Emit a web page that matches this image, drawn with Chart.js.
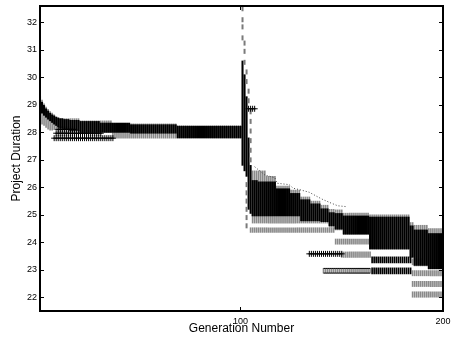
<!DOCTYPE html>
<html>
<head>
<meta charset="utf-8">
<style>
  html, body { margin: 0; padding: 0; background: #fff; }
  #wrap { width: 451px; height: 337px; }
</style>
<script src="https://cdn.jsdelivr.net/npm/chart.js@4/dist/chart.umd.min.js"></script>
</head>
<body>
<div id="wrap"><canvas id="c" width="451" height="337"></canvas></div>
<script>
// Generation range and tick labels
const genMin = 1, genMax = 200;
const xTicks = [100, 200];
const yTicks = [22, 23, 24, 25, 26, 27, 28, 29, 30, 31, 32];
const yMin = 21.5, yMax = 32.6;

// Dense population band per generation run: [fromGen, toGen, low, high]
const blackBand = [
  [1,1,28.75,29.30],[2,2,28.70,29.10],[3,3,28.62,28.98],[4,4,28.55,28.86],[5,5,28.48,28.78],
  [6,6,28.42,28.70],[7,7,28.36,28.64],[8,8,28.30,28.60],[9,9,28.25,28.56],[10,10,28.20,28.53],
  [11,12,28.15,28.50],[13,15,28.10,28.47],[16,20,28.05,28.44],[21,30,28.00,28.40],[31,45,28.00,28.34],
  [46,68,27.97,28.28],[69,100,27.80,28.22],
  [101,101,26.80,30.60],[102,102,26.60,30.10],[103,103,26.40,29.30],[104,104,25.20,27.80],[105,105,25.05,26.80],
  [106,108,24.96,26.25],[109,117,24.96,26.20],[118,124,24.96,25.95],[125,129,24.96,25.78],
  [130,134,24.78,25.55],[135,139,24.78,25.40],[140,143,24.75,25.22],[144,146,24.60,25.08],
  [147,150,24.48,25.05],[151,163,24.30,24.96],[164,183,23.76,24.92],[184,185,23.46,24.60],
  [186,192,23.16,24.45],[193,200,23.04,24.32]
];

// Second population (grey), drawn behind the dense band
const greyBand = [
  [1,1,28.35,29.38],[2,2,28.30,29.18],[3,3,28.25,29.04],[4,4,28.18,28.92],[5,5,28.12,28.84],
  [6,6,28.08,28.76],[7,7,28.08,28.70],[8,8,28.10,28.64],[9,20,28.10,28.50],[21,36,28.00,28.42],
  [37,68,27.79,28.31],[69,100,27.79,28.25],
  [106,112,24.70,26.60],[113,117,24.70,26.40],[118,124,24.70,26.05],[125,129,24.70,25.90],
  [130,134,24.70,25.65],[135,139,24.70,25.50],[140,143,24.70,25.35],[144,146,24.55,25.20],
  [147,150,24.45,25.18],[151,163,24.28,25.06],[164,183,23.74,25.00],[184,185,23.44,24.72],
  [186,192,23.14,24.62],[193,200,23.02,24.50]
];

// Isolated grey sub-populations: [fromGen, toGen, low, high]
const greyStreaks = [
  [105,146,24.36,24.53],[147,163,23.93,24.12],[150,164,23.45,23.65],[141,164,22.88,23.05],
  [185,189,23.18,23.40],[185,200,22.78,22.97],[185,200,22.39,22.58],[185,200,22.00,22.20]
];

// Isolated black sub-populations: [fromGen, toGen, low, high]
const blackStreaks = [
  [165,184,23.25,23.47],[165,184,22.85,23.07]
];

// Rows of '+' markers: [fromGen, toGen, duration]
const crossRows = [
  [8,37,27.79],[9,31,27.97],[10,18,28.11],[104,107,28.86],[134,150,23.58]
];

// Solid rows: [fromGen, toGen, duration]
const lineRows = [
  [141,164,23.05],[141,164,22.88]
];

// Sparse upper individuals after the restart: [gen, duration]
const topDots = [
  [107,26.75],[112,26.45],[117,26.35],[118,26.15],[124,26.10],[126,25.97],[130,25.90],
  [134,25.82],[137,25.70],[140,25.58],[144,25.45],[148,25.33],[152,25.30]
];

// Scattered individuals around generation 100: [gen, duration]
const spikeDashes = [
  [101,32.50],[101,32.10],[101,31.84],[101,31.44],[102,31.25],[102,30.95],[102,30.55],
  [103,30.20],[103,29.85],[104,29.50],[104,29.15],[105,28.75],[105,28.40],[105,28.05],
  [105,27.70],[105,27.35],[105,27.00],[103,26.10],[103,25.80],[103,25.50],[103,25.20],
  [103,24.90],[103,24.60]
];

function expandRanges(runs) {
  const out = [];
  runs.forEach(([a, b, lo, hi]) => { for (let g = a; g <= b; g++) out.push({ x: g, y: [lo, hi] }); });
  return out;
}
function expandRows(runs) {
  const out = [];
  runs.forEach(([a, b, v]) => { for (let g = a; g <= b; g++) out.push({ x: g, y: v }); });
  return out;
}
const pts = list => list.map(([g, v]) => ({ x: g, y: v }));

const barBase = { type: 'bar', barThickness: 1, grouped: false, borderWidth: 0 };

const datasets = [
  Object.assign({}, barBase, { data: expandRanges(greyBand), backgroundColor: '#8a8a8a', order: 10 }),
  Object.assign({}, barBase, { data: expandRanges(greyStreaks), backgroundColor: '#8a8a8a', order: 9 }),
  Object.assign({}, barBase, { data: expandRanges(blackBand), backgroundColor: '#000', barThickness: 1.4, order: 5 }),
  Object.assign({}, barBase, { data: expandRanges(blackStreaks), backgroundColor: '#000', order: 4 }),
  { type: 'line', data: pts(spikeDashes), showLine: false, pointStyle: 'line', rotation: 90,
    pointRadius: 2.5, pointBorderColor: '#7a7a7a', pointBorderWidth: 2, order: 3 },
  { type: 'line', data: expandRows(crossRows), showLine: false, pointStyle: 'cross',
    pointRadius: 3, pointBorderColor: '#000', pointBorderWidth: 1, order: 2 },
  { type: 'line', data: pts(topDots), borderColor: '#444', borderWidth: 1, borderDash: [1, 2],
    pointRadius: 0, order: 2 }
];
lineRows.forEach(r => datasets.push({ type: 'line', data: expandRows([r]), borderColor: '#000',
  borderWidth: 1, pointRadius: 0, order: 1 }));

const fontFamily = '"Liberation Sans", Arial, Helvetica, sans-serif';

// Box outline and inward tick marks, as in the classic plotting style
const framePlugin = {
  id: 'frame',
  afterDraw(chart) {
    const { ctx, chartArea: a, scales: { x, y } } = chart;
    ctx.save();
    ctx.strokeStyle = '#000';
    ctx.lineWidth = 1;
    ctx.beginPath();
    yTicks.forEach(v => {
      const py = Math.round(y.getPixelForValue(v)) + 0.5;
      ctx.moveTo(a.left, py); ctx.lineTo(a.left + 4, py);
      ctx.moveTo(a.right, py); ctx.lineTo(a.right - 4, py);
    });
    xTicks.forEach(v => {
      const px = Math.round(x.getPixelForValue(v)) + 0.5;
      ctx.moveTo(px, a.bottom); ctx.lineTo(px, a.bottom - 4);
      ctx.moveTo(px, a.top); ctx.lineTo(px, a.top + 4);
    });
    ctx.stroke();
    ctx.lineWidth = 2;
    ctx.strokeRect(a.left, a.top, a.right - a.left, a.bottom - a.top);
    ctx.restore();
  }
};

new Chart(document.getElementById('c'), {
  type: 'bar',
  data: { datasets },
  plugins: [framePlugin],
  options: {
    responsive: false,
    devicePixelRatio: 1,
    animation: false,
    layout: { padding: { top: 3, right: 8, left: 0, bottom: 0 } },
    plugins: { legend: { display: false }, tooltip: { enabled: false } },
    scales: {
      x: {
        type: 'linear', min: genMin, max: genMax, offset: false,
        grid: { display: false, drawTicks: false },
        border: { display: false },
        ticks: { padding: 5, color: '#000', font: { family: fontFamily, size: 9 }, maxRotation: 0 },
        afterBuildTicks: s => { s.ticks = xTicks.map(v => ({ value: v })); },
        afterFit: s => { s.height = 26; s.paddingLeft = 0; s.paddingRight = 0; },
        title: { display: true, text: 'Generation Number', color: '#000',
          font: { family: fontFamily, size: 12 }, padding: { top: 0, bottom: 1 } }
      },
      y: {
        type: 'linear', min: yMin, max: yMax,
        grid: { display: false, drawTicks: false },
        border: { display: false },
        ticks: { padding: 3, color: '#000', font: { family: fontFamily, size: 9 } },
        afterBuildTicks: s => { s.ticks = yTicks.map(v => ({ value: v })); },
        afterFit: s => { s.width = 40; s.paddingTop = 0; s.paddingBottom = 0; },
        title: { display: true, text: 'Project Duration', color: '#000',
          font: { family: fontFamily, size: 12 }, padding: { top: 9, bottom: 0 } }
      }
    }
  }
});
</script>
</body>
</html>
